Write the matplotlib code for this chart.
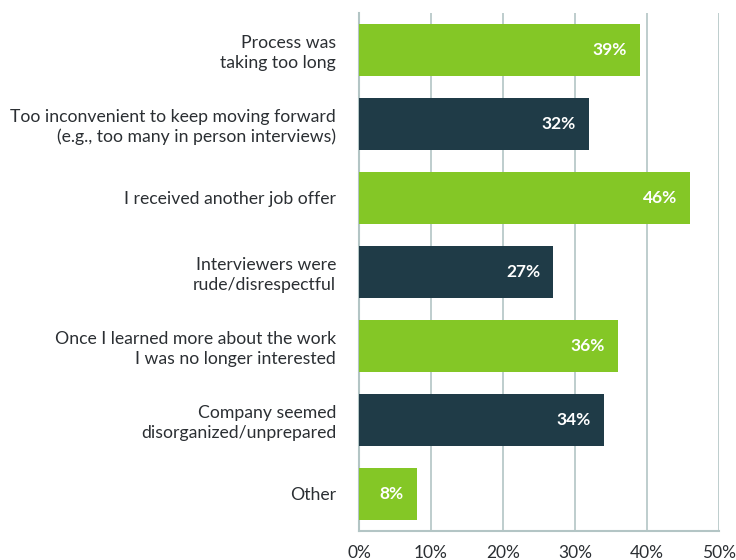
import matplotlib
matplotlib.use("Agg")
from matplotlib import pyplot as plt

plt.rcParams['font.family'] = ['Lato', 'DejaVu Sans']

reasons = [
    "Process was\ntaking too long",
    "Too inconvenient to keep moving forward\n(e.g., too many in person interviews)",
    "I received another job offer",
    "Interviewers were\nrude/disrespectful",
    "Once I learned more about the work\nI was no longer interested",
    "Company seemed\ndisorganized/unprepared",
    "Other",
]
shares = [39, 32, 46, 27, 36, 34, 8]
x_ticks = [0, 10, 20, 30, 40, 50]

green = '#84c726'
navy = '#1f3b47'
grid_col = '#b3c5c5'
text_col = '#2b2f33'

fig = plt.figure(figsize=(7.36, 5.6), dpi=100)
ax = fig.add_axes([0.4878, 0.0518, 0.489, 0.925])

ypos = list(range(len(reasons)))
colors = [green if i % 2 == 0 else navy for i in ypos]
bars = ax.barh(ypos, shares, height=0.71, color=colors, zorder=3)

for b, v in zip(bars, shares):
    ax.annotate(f"{v}%", xy=(b.get_width(), b.get_y() + b.get_height() / 2),
                xytext=(-9.5, 0), textcoords='offset points',
                ha='right', va='center', color='white',
                fontsize=12.5, fontweight='bold', zorder=4)

ax.set_xlim(0, 50)
ax.set_ylim(len(reasons) - 0.5, -0.5)
ax.set_xticks(x_ticks)
ax.set_xticklabels([f"{t}%" for t in x_ticks], fontsize=12.5, color=text_col)
ax.set_yticks(ypos)
ax.set_yticklabels(reasons, fontsize=12.7, color=text_col, ha='right',
                   multialignment='right', linespacing=1.25)
ax.tick_params(axis='both', length=0)
ax.tick_params(axis='y', pad=16.5)
ax.tick_params(axis='x', pad=10)

ax.xaxis.grid(True, color=grid_col, linewidth=1.2, zorder=0)
for side in ['top', 'right']:
    ax.spines[side].set_visible(False)
for side in ['left', 'bottom']:
    ax.spines[side].set_color(grid_col)
    ax.spines[side].set_linewidth(1.5)

fig.savefig('out.png', dpi=100)
